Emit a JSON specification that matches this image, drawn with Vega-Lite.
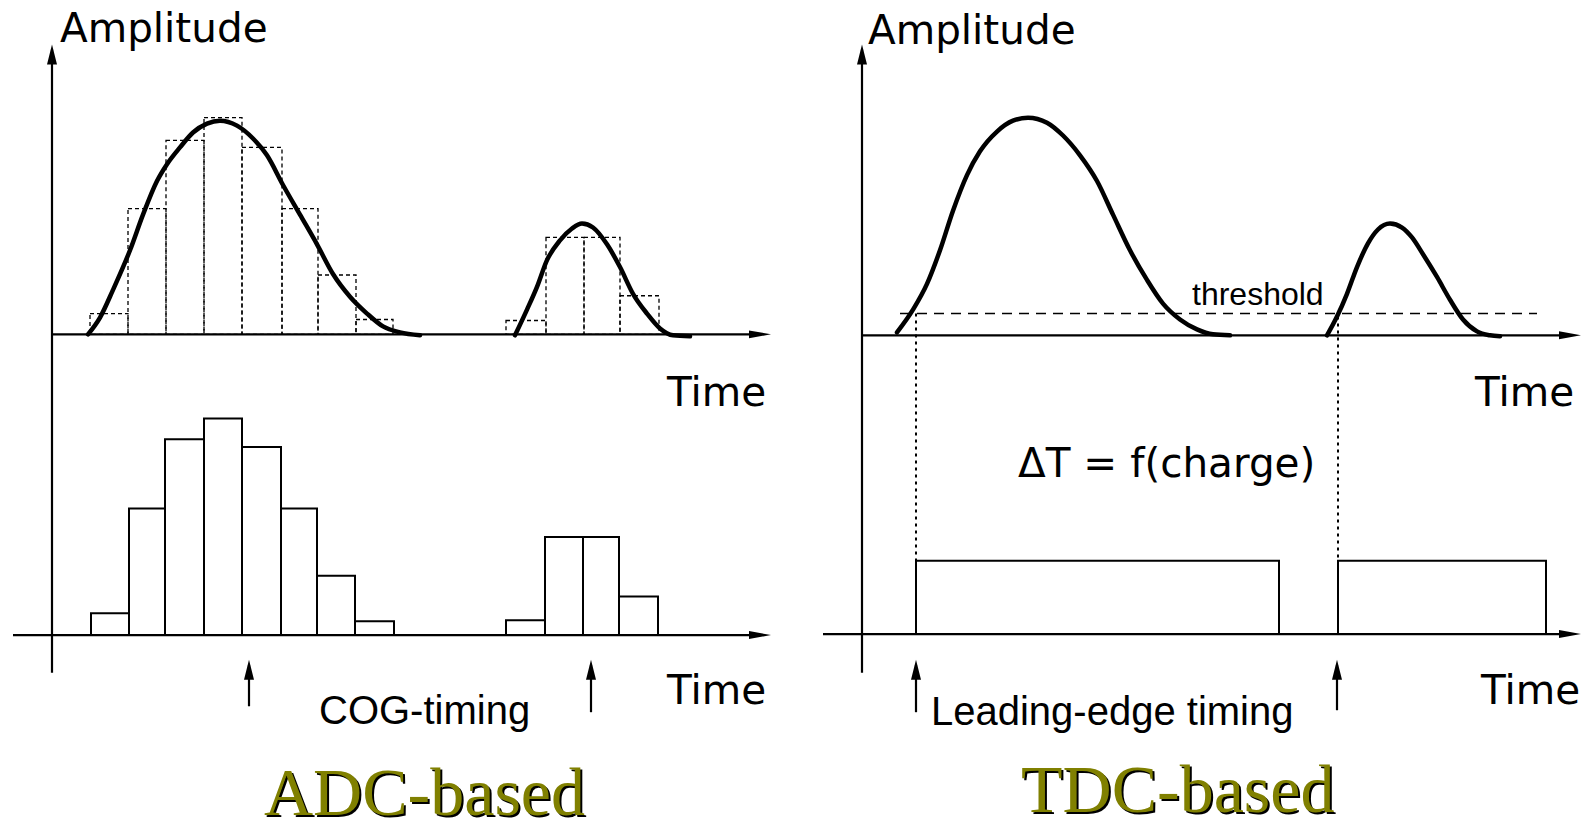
{
  "$schema": "https://vega.github.io/schema/vega-lite/v6.json",
  "width": 1583,
  "height": 831,
  "autosize": {"type": "fit", "contains": "padding"},
  "padding": 0,
  "background": "white",
  "config": {"view": {"stroke": null}},
  "datasets": {
    "curves": [
      {"c": "adc1", "x": 88, "y": 338}, {"c": "adc1", "x": 100, "y": 321}, {"c": "adc1", "x": 113, "y": 293}, {"c": "adc1", "x": 130, "y": 253}, {"c": "adc1", "x": 143, "y": 217}, {"c": "adc1", "x": 157, "y": 183}, {"c": "adc1", "x": 167, "y": 166}, {"c": "adc1", "x": 180, "y": 149}, {"c": "adc1", "x": 193, "y": 134}, {"c": "adc1", "x": 207, "y": 125}, {"c": "adc1", "x": 220, "y": 122}, {"c": "adc1", "x": 237, "y": 127}, {"c": "adc1", "x": 253, "y": 140}, {"c": "adc1", "x": 267, "y": 157}, {"c": "adc1", "x": 283, "y": 187}, {"c": "adc1", "x": 300, "y": 217}, {"c": "adc1", "x": 317, "y": 247}, {"c": "adc1", "x": 333, "y": 277}, {"c": "adc1", "x": 350, "y": 300}, {"c": "adc1", "x": 367, "y": 317}, {"c": "adc1", "x": 383, "y": 330}, {"c": "adc1", "x": 400, "y": 336}, {"c": "adc1", "x": 420, "y": 339},
      {"c": "adc2", "x": 515, "y": 339}, {"c": "adc2", "x": 527, "y": 313}, {"c": "adc2", "x": 537, "y": 290}, {"c": "adc2", "x": 547, "y": 263}, {"c": "adc2", "x": 560, "y": 243}, {"c": "adc2", "x": 572, "y": 231}, {"c": "adc2", "x": 582, "y": 226}, {"c": "adc2", "x": 593, "y": 230}, {"c": "adc2", "x": 607, "y": 247}, {"c": "adc2", "x": 620, "y": 270}, {"c": "adc2", "x": 633, "y": 297}, {"c": "adc2", "x": 647, "y": 317}, {"c": "adc2", "x": 660, "y": 332}, {"c": "adc2", "x": 673, "y": 339}, {"c": "adc2", "x": 690, "y": 340},
      {"c": "tdc1", "x": 897, "y": 336}, {"c": "tdc1", "x": 913, "y": 313}, {"c": "tdc1", "x": 927, "y": 287}, {"c": "tdc1", "x": 940, "y": 253}, {"c": "tdc1", "x": 953, "y": 213}, {"c": "tdc1", "x": 967, "y": 177}, {"c": "tdc1", "x": 980, "y": 153}, {"c": "tdc1", "x": 997, "y": 133}, {"c": "tdc1", "x": 1013, "y": 122}, {"c": "tdc1", "x": 1028, "y": 119}, {"c": "tdc1", "x": 1047, "y": 124}, {"c": "tdc1", "x": 1063, "y": 137}, {"c": "tdc1", "x": 1080, "y": 157}, {"c": "tdc1", "x": 1097, "y": 183}, {"c": "tdc1", "x": 1113, "y": 217}, {"c": "tdc1", "x": 1130, "y": 253}, {"c": "tdc1", "x": 1147, "y": 283}, {"c": "tdc1", "x": 1163, "y": 307}, {"c": "tdc1", "x": 1180, "y": 323}, {"c": "tdc1", "x": 1197, "y": 333}, {"c": "tdc1", "x": 1213, "y": 338}, {"c": "tdc1", "x": 1230, "y": 339},
      {"c": "tdc2", "x": 1327, "y": 339}, {"c": "tdc2", "x": 1337, "y": 320}, {"c": "tdc2", "x": 1347, "y": 297}, {"c": "tdc2", "x": 1357, "y": 270}, {"c": "tdc2", "x": 1368, "y": 246}, {"c": "tdc2", "x": 1378, "y": 232}, {"c": "tdc2", "x": 1390, "y": 226}, {"c": "tdc2", "x": 1402, "y": 230}, {"c": "tdc2", "x": 1412, "y": 240}, {"c": "tdc2", "x": 1423, "y": 257}, {"c": "tdc2", "x": 1437, "y": 280}, {"c": "tdc2", "x": 1450, "y": 303}, {"c": "tdc2", "x": 1463, "y": 323}, {"c": "tdc2", "x": 1477, "y": 335}, {"c": "tdc2", "x": 1490, "y": 339}, {"c": "tdc2", "x": 1500, "y": 340}
    ],
    "samples": [
      {"x": 90, "x2": 128, "y": 317, "y2": 338}, {"x": 128, "x2": 166, "y": 211, "y2": 338}, {"x": 166, "x2": 204, "y": 142, "y2": 338}, {"x": 204, "x2": 242, "y": 119, "y2": 338}, {"x": 242, "x2": 282, "y": 149, "y2": 338}, {"x": 282, "x2": 318, "y": 211, "y2": 338}, {"x": 318, "x2": 356, "y": 278, "y2": 338}, {"x": 356, "x2": 393, "y": 323, "y2": 338},
      {"x": 506, "x2": 546, "y": 324, "y2": 338}, {"x": 546, "x2": 584, "y": 240, "y2": 338}, {"x": 584, "x2": 620, "y": 240, "y2": 338}, {"x": 620, "x2": 659, "y": 299, "y2": 338}
    ],
    "bars": [
      {"x": 91, "x2": 129, "y": 620, "y2": 642}, {"x": 129, "x2": 165, "y": 514, "y2": 642}, {"x": 165, "x2": 204, "y": 444, "y2": 642}, {"x": 204, "x2": 242, "y": 423, "y2": 642}, {"x": 242, "x2": 281, "y": 452, "y2": 642}, {"x": 281, "x2": 317, "y": 514, "y2": 642}, {"x": 317, "x2": 355, "y": 582, "y2": 642}, {"x": 355, "x2": 394, "y": 628, "y2": 642},
      {"x": 506, "x2": 545, "y": 627, "y2": 642}, {"x": 545, "x2": 583, "y": 543, "y2": 642}, {"x": 583, "x2": 619, "y": 543, "y2": 642}, {"x": 619, "x2": 658, "y": 603, "y2": 642},
      {"x": 916, "x2": 1279, "y": 567, "y2": 641}, {"x": 1338, "x2": 1546, "y": 567, "y2": 641}
    ],
    "axes": [
      {"x": 52, "x2": 52, "y": 50, "y2": 680},
      {"x": 52, "x2": 760, "y": 338, "y2": 338},
      {"x": 13, "x2": 760, "y": 642, "y2": 642},
      {"x": 862, "x2": 862, "y": 50, "y2": 680},
      {"x": 862, "x2": 1570, "y": 339, "y2": 339},
      {"x": 823, "x2": 1570, "y": 641, "y2": 641},
      {"x": 249, "x2": 249, "y": 672, "y2": 714},
      {"x": 591, "x2": 591, "y": 672, "y2": 720},
      {"x": 916, "x2": 916, "y": 672, "y2": 720},
      {"x": 1337, "x2": 1337, "y": 672, "y2": 718}
    ],
    "upHeads": [
      {"x": 52, "y": 45}, {"x": 862, "y": 45},
      {"x": 249, "y": 667}, {"x": 591, "y": 667}, {"x": 916, "y": 667}, {"x": 1337, "y": 667}
    ],
    "rightHeads": [
      {"x": 771, "y": 338}, {"x": 771, "y": 642}, {"x": 1581, "y": 339}, {"x": 1581, "y": 641}
    ],
    "threshold": [{"x": 900, "x2": 1537, "y": 317, "y2": 317}],
    "projections": [
      {"x": 916, "x2": 916, "y": 317, "y2": 567},
      {"x": 1338, "x2": 1338, "y": 320, "y2": 567}
    ],
    "wideLabels": [
      {"text": "Amplitude", "x": 60, "y": 42},
      {"text": "Amplitude", "x": 868, "y": 44},
      {"text": "Time", "x": 667, "y": 410},
      {"text": "Time", "x": 667, "y": 712},
      {"text": "Time", "x": 1475, "y": 410},
      {"text": "Time", "x": 1481, "y": 712},
      {"text": "ΔT = f(charge)", "x": 1018, "y": 482}
    ],
    "timingLabels": [
      {"text": "COG-timing", "x": 319, "y": 732},
      {"text": "Leading-edge timing", "x": 931, "y": 733}
    ],
    "thresholdLabel": [{"text": "threshold", "x": 1192, "y": 308}],
    "titles": [
      {"text": "ADC-based", "x": 264, "y": 824},
      {"text": "TDC-based", "x": 1021, "y": 821}
    ]
  },
  "encoding": {
    "x": {"field": "x", "type": "quantitative", "axis": null, "scale": {"domain": [0, 1583], "nice": false, "zero": false}},
    "y": {"field": "y", "type": "quantitative", "axis": null, "scale": {"domain": [0, 831], "nice": false, "zero": false, "reverse": true}}
  },
  "layer": [
    {
      "data": {"name": "samples"},
      "mark": {"type": "rect", "fill": "transparent", "stroke": "black", "strokeWidth": 1.3, "strokeDash": [4, 3]},
      "encoding": {"x2": {"field": "x2"}, "y2": {"field": "y2"}}
    },
    {
      "data": {"name": "bars"},
      "mark": {"type": "rect", "fill": "transparent", "stroke": "black", "strokeWidth": 2},
      "encoding": {"x2": {"field": "x2"}, "y2": {"field": "y2"}}
    },
    {
      "data": {"name": "threshold"},
      "mark": {"type": "rule", "color": "black", "strokeWidth": 1.6, "strokeDash": [10, 7]},
      "encoding": {"x2": {"field": "x2"}, "y2": {"field": "y2"}}
    },
    {
      "data": {"name": "projections"},
      "mark": {"type": "rule", "color": "black", "strokeWidth": 2, "strokeDash": [3, 4]},
      "encoding": {"x2": {"field": "x2"}, "y2": {"field": "y2"}}
    },
    {
      "data": {"name": "axes"},
      "mark": {"type": "rule", "color": "black", "strokeWidth": 2.2},
      "encoding": {"x2": {"field": "x2"}, "y2": {"field": "y2"}}
    },
    {
      "data": {"name": "curves"},
      "mark": {"type": "line", "color": "black", "strokeWidth": 4.5, "interpolate": "monotone", "strokeCap": "round", "strokeJoin": "round"},
      "encoding": {"detail": {"field": "c", "type": "nominal"}}
    },
    {
      "data": {"name": "upHeads"},
      "mark": {"type": "point", "shape": "M0,0L0.5,2L-0.5,2Z", "filled": true, "color": "black", "opacity": 1, "size": 400, "strokeWidth": 0}
    },
    {
      "data": {"name": "rightHeads"},
      "mark": {"type": "point", "shape": "M0,0L-2,-0.36L-2,0.36Z", "filled": true, "color": "black", "opacity": 1, "size": 484, "strokeWidth": 0}
    },
    {
      "data": {"name": "wideLabels"},
      "mark": {"type": "text", "font": "DejaVu Sans", "fontSize": 40.5, "align": "left", "baseline": "alphabetic", "color": "black"},
      "encoding": {"text": {"field": "text"}}
    },
    {
      "data": {"name": "timingLabels"},
      "mark": {"type": "text", "font": "Liberation Sans", "fontSize": 40, "align": "left", "baseline": "alphabetic", "color": "black"},
      "encoding": {"text": {"field": "text"}}
    },
    {
      "data": {"name": "thresholdLabel"},
      "mark": {"type": "text", "font": "Liberation Sans", "fontSize": 32, "align": "left", "baseline": "alphabetic", "color": "black"},
      "encoding": {"text": {"field": "text"}}
    },
    {
      "data": {"name": "titles"},
      "mark": {"type": "text", "font": "Liberation Serif", "fontSize": 68, "align": "left", "baseline": "alphabetic", "color": "black", "dx": 2, "dy": 2},
      "encoding": {"text": {"field": "text"}}
    },
    {
      "data": {"name": "titles"},
      "mark": {"type": "text", "font": "Liberation Serif", "fontSize": 68, "align": "left", "baseline": "alphabetic", "color": "#808000"},
      "encoding": {"text": {"field": "text"}}
    }
  ]
}
